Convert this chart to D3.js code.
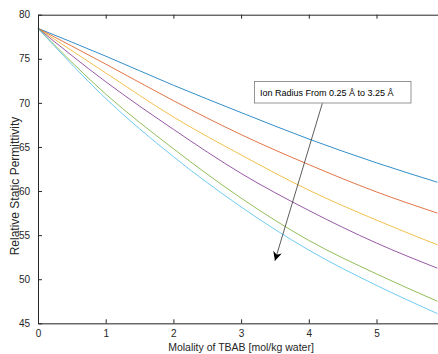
<!DOCTYPE html>
<html>
<head>
<meta charset="utf-8">
<script src="https://cdn.jsdelivr.net/npm/d3@7"></script>
<style>
  body { margin: 0; background: #fff; }
  svg { display: block; font-family: "Liberation Sans", Arial, Helvetica, sans-serif; }
</style>
</head>
<body>
<svg id="chart" width="438" height="354"></svg>
<script>
// molality values where the curves were read
const molality = [0, 1, 2, 3, 4, 5, 5.9]

// relative static permittivity, one series per ion radius (0.25 -> 3.25 Å)
const seriesBlue   = [78.45, 75.3, 72.0, 68.9, 65.9, 63.2, 61.0]
const seriesRed    = [78.45, 74.4, 70.25, 66.4, 63.0, 59.9, 57.5]
const seriesYellow = [78.45, 73.4, 68.4, 64.1, 60.1, 56.7, 53.9]
const seriesPurple = [78.45, 72.4, 67.0, 62.0, 57.8, 54.1, 51.25]
const seriesGreen  = [78.45, 71.0, 64.8, 59.2, 54.4, 50.6, 47.5]
const seriesCyan   = [78.45, 70.5, 63.9, 58.2, 53.3, 49.3, 46.1]

const xTicks = [0, 1, 2, 3, 4, 5]
const yTicks = [45, 50, 55, 60, 65, 70, 75, 80]

// annotation arrow, data coords [start, end]
const arrowFrom = [4.2, 69.95]
const arrowTo = [3.5, 52.1]
const noteText = "Ion Radius From 0.25 Å to 3.25 Å"

const colors = ["#0072BD", "#D95319", "#EDB120", "#7E2F8E", "#77AC30", "#4DBEEE"]
const allSeries = [seriesBlue, seriesRed, seriesYellow, seriesPurple, seriesGreen, seriesCyan]

let svg = d3.select("#chart")
let plotLeft = 38, plotTop = 14.7, plotBottom = 323.3

let x = d3.scaleLinear().domain([0, 6]).range([plotLeft, plotLeft + 406.2])
let y = d3.scaleLinear().domain([45, 80]).range([plotBottom, plotTop])

let line = d3.line()
    .x((d, i) => x(molality[i]))
    .y((d) => y(d))
    .curve(d3.curveMonotoneX)

svg.append("defs").append("marker")
    .attr("id", "head")
    .attr("viewBox", "0 0 10 10")
    .attr("refX", 10).attr("refY", 5)
    .attr("markerWidth", 9).attr("markerHeight", 9)
    .attr("markerUnits", "userSpaceOnUse")
    .attr("orient", "auto")
    .append("path")
    .attr("d", "M0,0 L10,5 L0,10 L3,5 Z")
    .attr("fill", "#000")

// curves
svg.append("g")
    .selectAll("path")
    .data(allSeries)
    .enter()
    .append("path")
    .attr("d", (d) => line(d))
    .attr("fill", "none")
    .attr("stroke", (d, i) => colors[i])
    .attr("stroke-opacity", 0.8)
    .attr("stroke-width", 1)

// axes
let gx = svg.append("g").attr("transform", "translate(0," + plotBottom + ")")
    .call(d3.axisBottom(x).tickValues(xTicks).tickFormat(d3.format("d")).tickSizeInner(-4).tickSizeOuter(0).tickPadding(7))
gx.select(".domain").attr("stroke", "#6a6a6a").attr("stroke-width", 1.6)

let gTop = svg.append("g").attr("transform", "translate(0," + plotTop + ")")
    .call(d3.axisTop(x).tickValues(xTicks).tickSizeInner(-4).tickSizeOuter(0).tickFormat(""))
gTop.select(".domain").attr("stroke", "#262626").attr("stroke-width", 1)

let gy = svg.append("g").attr("transform", "translate(" + plotLeft + ",0)")
    .call(d3.axisLeft(y).tickValues(yTicks).tickFormat(d3.format("d")).tickSizeInner(-4).tickSizeOuter(0).tickPadding(8))
gy.select(".domain").attr("stroke", "#262626").attr("stroke-width", 1)

svg.selectAll(".tick line").attr("stroke", "#262626")
svg.selectAll(".tick text").attr("fill", "#262626").style("font-size", "10px")
    .style("font-family", "'Liberation Sans', Arial, sans-serif")

// axis labels
svg.append("text")
    .attr("x", 241).attr("y", 350.5)
    .attr("text-anchor", "middle")
    .attr("fill", "#262626")
    .style("font-size", "10.5px")
    .text("Molality of TBAB [mol/kg water]")

svg.append("text")
    .attr("transform", "translate(19,186) rotate(-90)")
    .attr("text-anchor", "middle")
    .attr("fill", "#262626")
    .style("font-size", "12px")
    .text("Relative Static Permittivity")

// annotation
svg.append("line")
    .attr("x1", x(arrowFrom[0])).attr("y1", y(arrowFrom[1]))
    .attr("x2", x(arrowTo[0])).attr("y2", y(arrowTo[1]))
    .attr("stroke", "#333")
    .attr("stroke-width", 0.8)
    .attr("marker-end", "url(#head)")

svg.append("rect")
    .attr("x", 254.5).attr("y", 81.5)
    .attr("width", 156.5).attr("height", 21.5)
    .attr("fill", "#fff")
    .attr("stroke", "#7a7a7a")
    .attr("stroke-width", 0.8)

svg.append("text")
    .attr("x", 260).attr("y", 95.5)
    .attr("fill", "#000")
    .style("font-size", "9px")
    .text(noteText)
</script>
</body>
</html>
